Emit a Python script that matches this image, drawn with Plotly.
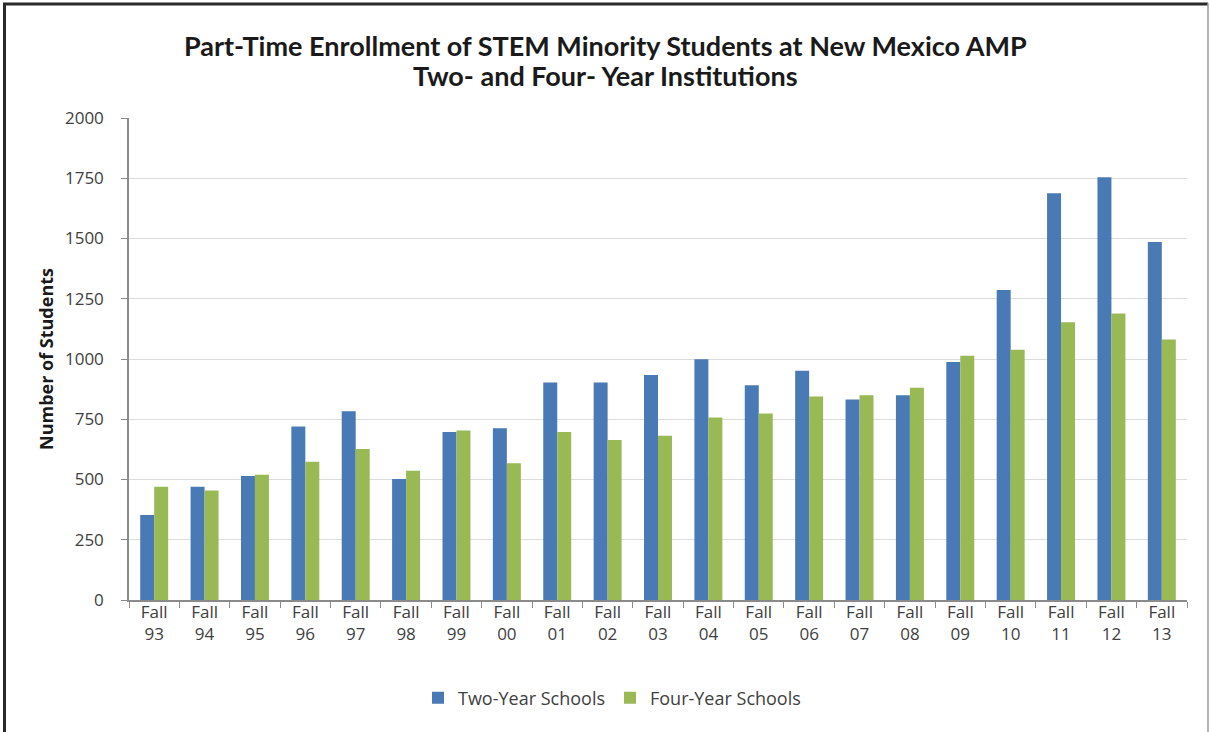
import plotly.graph_objects as go

# Enrollment data
years = ["93", "94", "95", "96", "97", "98", "99", "00", "01", "02", "03",
         "04", "05", "06", "07", "08", "09", "10", "11", "12", "13"]
categories = ["Fall<br>" + y for y in years]
two_year = [353, 470, 515, 720, 783, 502, 697, 713, 902, 902, 934,
            999, 891, 951, 832, 850, 988, 1286, 1688, 1754, 1485]
four_year = [470, 454, 520, 574, 627, 536, 703, 567, 697, 664, 682,
             757, 774, 844, 850, 881, 1014, 1038, 1152, 1189, 1081]
y_ticks = [0, 250, 500, 750, 1000, 1250, 1500, 1750, 2000]
title_lines = ["Part-Time Enrollment of STEM Minority Students at New Mexico AMP",
               "Two- and Four- Year Institutions"]

W, H = 1210, 732
L, R, T, B = 129, 23, 118, 132

BLUE = "#4a7ab5"
GREEN = "#98b954"
TXT = "#404040"
FONT = "Open Sans"

fig = go.Figure()
fig.add_trace(go.Bar(x=categories, y=two_year, name="Two-Year Schools",
                     marker=dict(color=BLUE, line=dict(width=0))))
fig.add_trace(go.Bar(x=categories, y=four_year, name="Four-Year Schools",
                     marker=dict(color=GREEN, line=dict(width=0))))


def px_x(p):
    return (p - L) / (W - L - R)


def px_y(p):
    return 1 - (p - T) / (H - T - B)


# Outer chart frame: dark top and left edges, light right edge
frame = [
    dict(x0=px_x(3), x1=px_x(1208), y0=px_y(4), y1=px_y(4), color="#2a2a2a", width=3),
    dict(x0=px_x(4.5), x1=px_x(4.5), y0=px_y(3), y1=px_y(732), color="#2a2a2a", width=3),
    dict(x0=px_x(1208), x1=px_x(1208), y0=px_y(3), y1=px_y(732), color="#9a9a9a", width=1.5),
]
shapes = [dict(type="line", xref="paper", yref="paper", x0=f["x0"], x1=f["x1"],
               y0=f["y0"], y1=f["y1"], line=dict(color=f["color"], width=f["width"]))
          for f in frame]

annotations = []
for text, ypix in zip(title_lines, [45, 75]):
    annotations.append(dict(
        text=text, xref="paper", yref="paper", x=px_x(605), y=px_y(ypix),
        xanchor="center", yanchor="middle", showarrow=False,
        font=dict(family="Lato", size=27, color="#1a1a1a", weight="bold"),
    ))
annotations.append(dict(
    text="Number of Students", xref="paper", yref="paper",
    x=px_x(46), y=px_y(359), xanchor="center", yanchor="middle",
    textangle=-90, showarrow=False,
    font=dict(family=FONT, size=18, color="#1a1a1a", weight="bold"),
))

fig.update_layout(
    width=W, height=H,
    margin=dict(l=L, r=R, t=T, b=B),
    paper_bgcolor="white", plot_bgcolor="white",
    barmode="group", bargap=0.445, bargroupgap=0,
    font=dict(family=FONT, size=17, color=TXT),
    xaxis=dict(
        type="category", tickson="boundaries",
        ticks="outside", ticklen=6, tickcolor="#8a8a8a",
        showline=True, linecolor="#8a8a8a", linewidth=1.5,
        showgrid=False, ticklabelstandoff=-4,
        tickfont=dict(family=FONT, size=17, color=TXT),
    ),
    yaxis=dict(
        range=[0, 2000], tickvals=y_ticks,
        ticks="outside", ticklen=6, tickcolor="#8a8a8a",
        showline=True, linecolor="#8a8a8a", linewidth=1.5,
        showgrid=True, gridcolor="#dcdcdc", gridwidth=1,
        zeroline=False, ticklabelstandoff=14,
        tickfont=dict(family=FONT, size=17, color=TXT),
    ),
    legend=dict(
        orientation="h", x=px_x(612), xanchor="center",
        y=px_y(698), yanchor="middle",
        font=dict(family=FONT, size=18, color=TXT),
        traceorder="normal", itemwidth=30,
    ),
    shapes=shapes,
    annotations=annotations,
)

fig.write_html("out.html")
